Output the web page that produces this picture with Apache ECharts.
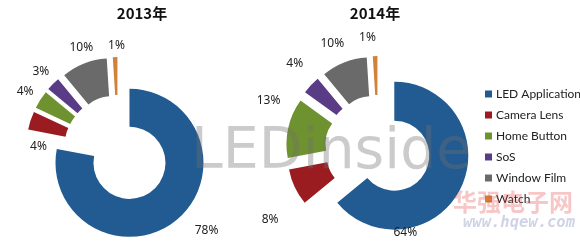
<!DOCTYPE html>
<html><head><meta charset="utf-8">
<script src="https://cdn.jsdelivr.net/npm/echarts@6/dist/echarts.min.js"></script>
<style>html,body{margin:0;padding:0;background:#fff}#c{width:580px;height:241px}</style>
</head><body><div id="c"></div>
<script>
const categories = ['LED Application', 'Camera Lens', 'Home Button', 'SoS', 'Window Film', 'Watch'];
const values2013 = [78, 4, 4, 3, 10, 1];
const values2014 = [64, 8, 13, 4, 10, 1];
const years = ['2013年', '2014年'];
const colors = ['#215B92', '#9A1C20', '#6F9230', '#5A3C86', '#6A6A6A', '#D08238'];
// label nudges (label placement only, per series / per slice)
const labelNudge = [
  [[13, 5], [24, 28], [0, -4], [2, -7], [12, -8], [10, -3]],
  [[-75, 42], [-9, 29], [0, -26], [-2, -16], [3, -11], [1, -10]]
];

const chart = echarts.init(document.getElementById('c'), null, {renderer: 'canvas'});
function pie(vals, center, radius) {
  return {
    type: 'pie', center: center, radius: radius, startAngle: 90, clockwise: true,
    selectedMode: 'multiple', selectedOffset: 18, avoidLabelOverlap: false,
    label: {show: true, position: 'outside', formatter: '{c}%', fontSize: 12, color: '#222',
            fontFamily: 'Noto Sans', distanceToLabelLine: 0},
    labelLine: {show: false, length: 8, length2: 0},
    labelLayout: function (p) {
      const n = labelNudge[p.seriesIndex][p.dataIndex];
      return {dx: n[0], dy: n[1]};
    },
    itemStyle: {borderWidth: 0},
    emphasis: {disabled: true},
    data: categories.map((n, i) => ({name: n, value: vals[i], selected: true}))
  };
}
chart.setOption({
  animation: false,
  color: colors,
  title: [
    {text: years[0], left: 137, top: 1, textAlign: 'center', textStyle: {fontSize: 15, fontWeight: 'bold', color: '#111', fontFamily: 'Noto Sans CJK SC'}},
    {text: years[1], left: 370, top: 1, textAlign: 'center', textStyle: {fontSize: 15, fontWeight: 'bold', color: '#111', fontFamily: 'Noto Sans CJK SC'}}
  ],
  legend: {orient: 'vertical', left: 480, top: 83, itemWidth: 7, itemHeight: 7, itemGap: 9, icon: 'rect',
           selectedMode: false, data: categories,
           textStyle: {fontSize: 12, color: '#222', fontFamily: 'Lato', padding: [0, 0, 0, -1]}},
  series: [pie(values2013, [118, 149], [36, 74]), pie(values2014, [378, 148], [35, 74])],
  graphic: [
    {type: 'text', left: 191, top: 125, z: 100, silent: true,
     style: {text: 'LEDinside', fontSize: 57, fontFamily: 'DejaVu Sans', fill: 'rgba(110,110,110,0.36)'}},
    {type: 'text', left: 453, top: 190, z: 100, silent: true,
     style: {text: '华强电子网', fontSize: 24, fontWeight: 'bold', fontFamily: 'Noto Sans CJK SC', fill: 'rgba(230,70,70,0.3)'}},
    {type: 'text', left: 463, top: 215, z: 100, silent: true,
     style: {text: 'www.hqew.com', fontSize: 15.5, fontWeight: 'bold', fontStyle: 'italic', fontFamily: 'DejaVu Sans Mono', fill: 'rgba(120,130,180,0.35)'}}
  ]
});
</script></body></html>
